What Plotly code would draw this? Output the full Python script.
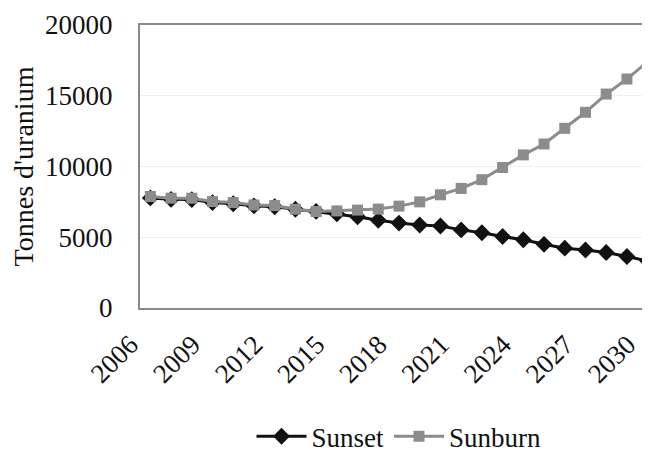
import plotly.graph_objects as go

years = list(range(2006, 2031))
sunset = [7780, 7680, 7660, 7450, 7370, 7220, 7160, 6980, 6830, 6650, 6450,
          6200, 6000, 5870, 5790, 5520, 5320, 5050, 4820, 4500, 4230, 4100,
          3920, 3640, 3320]
sunburn = [7880, 7760, 7760, 7520, 7450, 7280, 7240, 6980, 6820, 6860, 6920,
           6990, 7200, 7500, 8000, 8450, 9070, 9930, 10820, 11590, 12700,
           13830, 15120, 16180, 17410]
tick_years = [2006, 2009, 2012, 2015, 2018, 2021, 2024, 2027, 2030]
y_ticks = [0, 5000, 10000, 15000, 20000]

font_fam = "Liberation Serif, Times New Roman, serif"

fig = go.Figure()
fig.add_trace(go.Scatter(x=years, y=sunset, name="Sunset", mode="lines+markers",
                         line=dict(color="#111111", width=3),
                         marker=dict(symbol="diamond", size=13, color="#111111")))
fig.add_trace(go.Scatter(x=years, y=sunburn, name="Sunburn", mode="lines+markers",
                         line=dict(color="#8c8c8c", width=3),
                         marker=dict(symbol="square", size=11, color="#8c8c8c")))

fig.update_xaxes(range=[2005.5, 2030.5], tickvals=tick_years,
                 ticktext=[str(t) for t in tick_years], tickangle=-45,
                 showgrid=False, showline=True, linecolor="#8a8a8a", linewidth=2,
                 mirror=True, ticks="", zeroline=False, automargin=False,
                 ticklabeloverflow="allow", ticklabelstandoff=8,
                 ticklabelshift=-20,
                 tickfont=dict(family=font_fam, size=27, color="#111111"))
fig.update_yaxes(range=[0, 20000], tickvals=y_ticks,
                 ticktext=[str(t) for t in y_ticks],
                 showgrid=True, gridcolor="#f0f0f0", gridwidth=1,
                 showline=True, linecolor="#8a8a8a", linewidth=2, ticks="",
                 zeroline=False, ticklabelstandoff=20, automargin=False,
                 tickfont=dict(family=font_fam, size=27, color="#111111"),
                 title=dict(text="Tonnes d'uranium", standoff=10,
                            font=dict(family=font_fam, size=28, color="#111111")))

# page has an 8px body margin, so margins are reduced by 8
fig.update_layout(width=650, height=455,
                  margin=dict(l=132, r=0, t=17, b=155),
                  plot_bgcolor="white", paper_bgcolor="white",
                  showlegend=True,
                  legend=dict(orientation="h", x=0.5, xanchor="center",
                              y=-0.455, yanchor="middle",
                              font=dict(family=font_fam, size=27, color="#111111"),
                              itemwidth=50))
fig.write_html("out.html")
